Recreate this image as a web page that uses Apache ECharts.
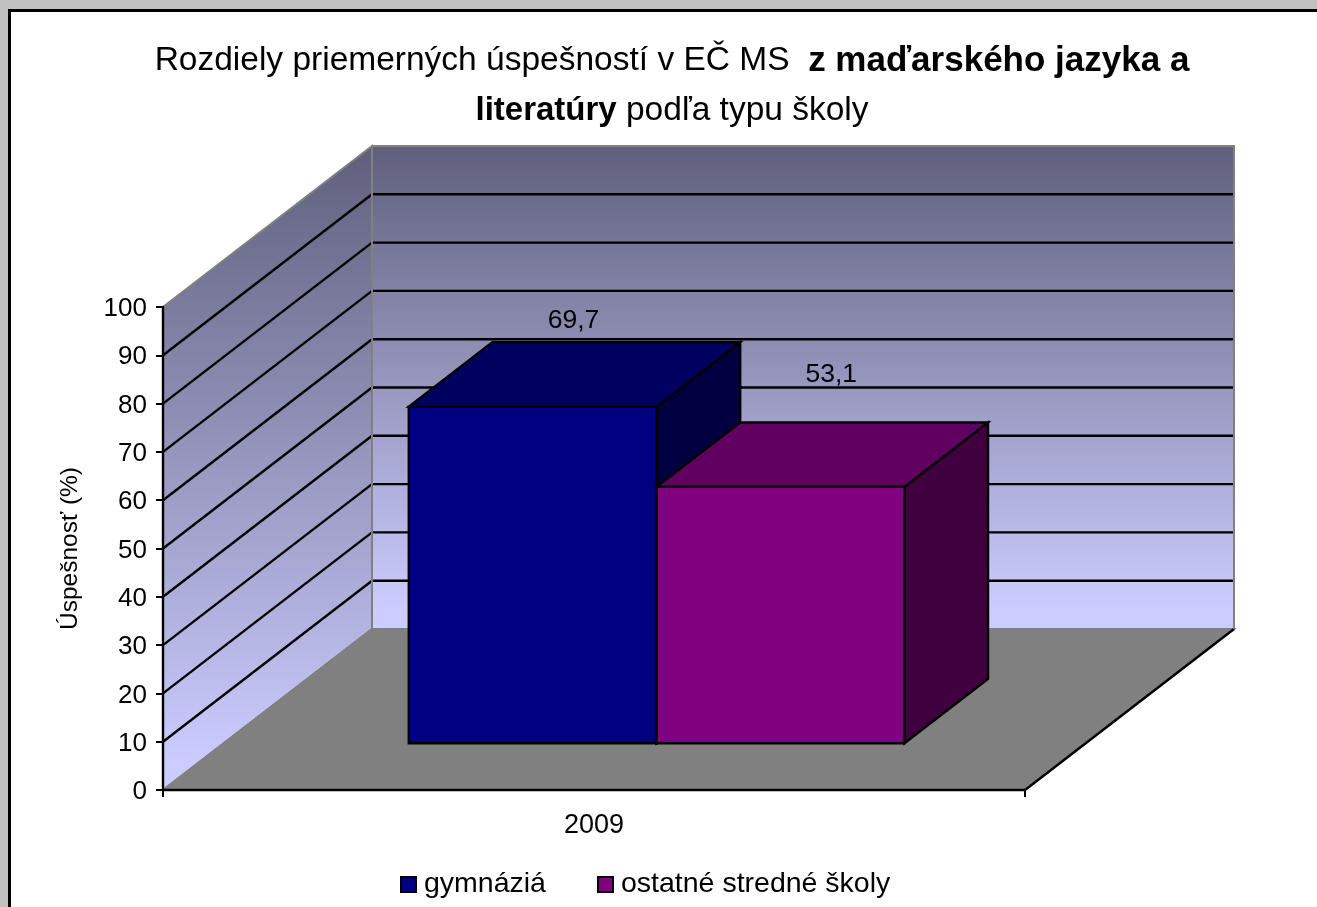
<!DOCTYPE html>
<html>
<head>
<meta charset="utf-8">
<style>
html,body{margin:0;padding:0;width:1317px;height:907px;overflow:hidden;background:#c0c0c0}
#frame{position:absolute;left:8px;top:9px;width:1309px;height:898px;background:#fff;border-left:3px solid #000;border-top:3px solid #000;box-sizing:border-box}
#chart{position:absolute;left:0;top:0;width:1317px;height:907px}
</style>
<script src="https://cdn.jsdelivr.net/npm/echarts@6/dist/echarts.min.js"></script>
</head>
<body>
<div id="frame"></div>
<div id="chart"></div>
<script>
const categories = ['2009'];
const seriesNames = ['gymnáziá', 'ostatné stredné školy'];
const gymnazia = [69.7];
const ostatne = [53.1];
const yTicks = [10, 20, 30, 40, 50, 60, 70, 80, 90];

const FONT = '"Liberation Sans", Arial, sans-serif';
const DEPTH = [209, -161];            // oblique projection of the chart's depth
const BAR_FRONT = 0.29, BAR_BACK = 0.69; // bar position along the depth
const BAR_WIDTH = 0.2875;             // each bar's share of the category band
const BAR_NUDGE = 2;
const GREY = '#808080';
const colours = [
  {front:'#000080', top:'#000060', side:'#000040'},
  {front:'#800080', top:'#600060', side:'#400040'}
];
const labelShift = [[-1, -22], [9, -48]];

function backdrop(params, api) {
  const a = api.coord([0, 0]), band = api.size([1, 0])[0];
  const x0 = a[0] - band / 2, x1 = a[0] + band / 2;
  const y0 = api.coord([0, 0])[1], y1 = api.coord([0, 100])[1];
  const dx = DEPTH[0], dy = DEPTH[1];
  const grad = () => ({type:'linear', x:0, y:0, x2:0, y2:1, colorStops:[
    {offset:0, color:'#5f5f7c'}, {offset:0.96, color:'#ccccff'}, {offset:1, color:'#ccccff'}]});
  return {type:'group', children:[
    {type:'polygon', shape:{points:[[x0,y0],[x0,y1],[x0+dx,y1+dy],[x0+dx,y0+dy]]},
      style:{fill:grad(), stroke:GREY, lineWidth:2}},
    {type:'polygon', shape:{points:[[x0+dx,y0+dy],[x0+dx,y1+dy],[x1+dx,y1+dy],[x1+dx,y0+dy]]},
      style:{fill:grad(), stroke:GREY, lineWidth:2}},
    {type:'polygon', shape:{points:[[x0,y0],[x0+dx,y0+dy],[x1+dx,y0+dy],[x1,y0]]},
      style:{fill:GREY, stroke:GREY, lineWidth:2}},
    {type:'line', shape:{x1:x1, y1:y0, x2:x1+dx, y2:y0+dy}, style:{stroke:'#000', lineWidth:2.4}}
  ]};
}

function gridLine(params, api) {
  const a = api.coord([0, api.value(1)]), band = api.size([1, 0])[0];
  const x0 = a[0] - band / 2, x1 = a[0] + band / 2, y = a[1];
  const dx = DEPTH[0], dy = DEPTH[1];
  const ln = {stroke:'#000', lineWidth:2.4};
  return {type:'group', children:[
    {type:'line', shape:{x1:x0, y1:y, x2:x0+dx, y2:y+dy}, style:ln},
    {type:'line', shape:{x1:x0+dx, y1:y+dy, x2:x1+dx, y2:y+dy}, style:ln}
  ]};
}

function wallEdges(params, api) {
  const a = api.coord([0, 0]), band = api.size([1, 0])[0];
  const x0 = a[0] - band / 2, x1 = a[0] + band / 2;
  const y0 = a[1], y1 = api.coord([0, 100])[1];
  const dx = DEPTH[0], dy = DEPTH[1];
  const ln = {stroke:GREY, lineWidth:2};
  return {type:'group', children:[
    {type:'line', shape:{x1:x0+dx, y1:y0+dy, x2:x0+dx, y2:y1+dy}, style:ln},
    {type:'line', shape:{x1:x1+dx, y1:y0+dy, x2:x1+dx, y2:y1+dy}, style:ln}
  ]};
}

function bar3d(index) {
  return function (params, api) {
    const v = api.value(1);
    const c = api.coord([api.value(0), 0]), t = api.coord([api.value(0), v]);
    const band = api.size([1, 0])[0], w = band * BAR_WIDTH;
    const fx = DEPTH[0] * BAR_FRONT + BAR_NUDGE, fy = DEPTH[1] * BAR_FRONT;
    const bx = DEPTH[0] * (BAR_BACK - BAR_FRONT), by = DEPTH[1] * (BAR_BACK - BAR_FRONT);
    const l = c[0] + fx + (index - 1) * w, r = l + w;
    const yb = c[1] + fy, yt = t[1] + fy;
    const k = colours[index], s = (fill) => ({fill, stroke:'#000', lineWidth:2.4, lineJoin:'miter'});
    return {type:'group', children:[
      {type:'polygon', shape:{points:[[r,yb],[r+bx,yb+by],[r+bx,yt+by],[r,yt]]}, style:s(k.side)},
      {type:'polygon', shape:{points:[[l,yt],[l+bx,yt+by],[r+bx,yt+by],[r,yt]]}, style:s(k.top)},
      {type:'rect', shape:{x:l, y:yt, width:w, height:yb-yt}, style:s(k.front)},
      {type:'text', x:(l+r)/2+bx/2+labelShift[index][0], y:yt+by+labelShift[index][1],
        style:{text:String(v).replace('.', ','), font:'26.5px '+FONT, fill:'#000', align:'center', verticalAlign:'middle'}}
    ]};
  };
}

const chart = echarts.init(document.getElementById('chart'));
chart.setOption({
  animation:false,
  backgroundColor:'transparent',
  textStyle:{fontFamily:FONT, color:'#000'},
  title:{
    left:667, top:31, textAlign:'center',
    text:'{n|Rozdiely priemerných úspešností v EČ MS  }{b1|z maďarského jazyka a}\n{b2|literatúry}{n| podľa typu školy}',
    textStyle:{
      lineHeight:50,
      rich:{
        n:{fontFamily:FONT, fontSize:33.5, fontWeight:'normal', color:'#000', lineHeight:50},
        b1:{fontFamily:FONT, fontSize:35, fontWeight:'bold', color:'#000', lineHeight:50},
        b2:{fontFamily:FONT, fontSize:33, fontWeight:'bold', color:'#000', lineHeight:50}
      }
    }
  },
  legend:{
    data:seriesNames, left:395, top:865, icon:'rect', itemWidth:15, itemHeight:15, itemGap:51,
    selectedMode:false,
    textStyle:{fontFamily:FONT, fontSize:28.5, color:'#000', padding:[0,0,0,3]}
  },
  grid:{left:163, top:307, width:862, height:483},
  xAxis:{
    type:'category', data:categories, z:5,
    axisLine:{lineStyle:{color:'#000', width:2.4}},
    axisTick:{show:true, length:7, lineStyle:{color:'#000', width:2}},
    axisLabel:{fontFamily:FONT, fontSize:27, color:'#000', margin:22},
    splitLine:{show:false}
  },
  yAxis:{
    type:'value', min:0, max:100, interval:10, z:5,
    name:'Úspešnosť (%)', nameLocation:'middle', nameGap:80, nameRotate:90,
    nameTextStyle:{fontFamily:FONT, fontSize:24.5, color:'#000'},
    axisLine:{show:true, lineStyle:{color:'#000', width:2.4}},
    axisTick:{show:true, length:7, lineStyle:{color:'#000', width:2}},
    axisLabel:{
      margin:16, formatter:'{t|{value}}',
      rich:{t:{fontFamily:FONT, fontSize:26, color:'#000', padding:[4,0,0,0]}}
    },
    splitLine:{show:false}
  },
  series:[
    {type:'custom', name:'walls', z:1, silent:true, data:[[0, 0]], renderItem:backdrop},
    {type:'custom', name:'gridlines', z:1, silent:true, data:yTicks.map(v => [0, v]), renderItem:gridLine},
    {type:'custom', name:'edges', z:1, silent:true, data:[[0, 0]], renderItem:wallEdges},
    {type:'custom', name:seriesNames[0], z:2, data:gymnazia.map((v, i) => [i, v]), renderItem:bar3d(0),
      itemStyle:{color:colours[0].front, borderColor:'#000', borderWidth:2}},
    {type:'custom', name:seriesNames[1], z:3, data:ostatne.map((v, i) => [i, v]), renderItem:bar3d(1),
      itemStyle:{color:colours[1].front, borderColor:'#000', borderWidth:2}}
  ]
});
</script>
</body>
</html>
